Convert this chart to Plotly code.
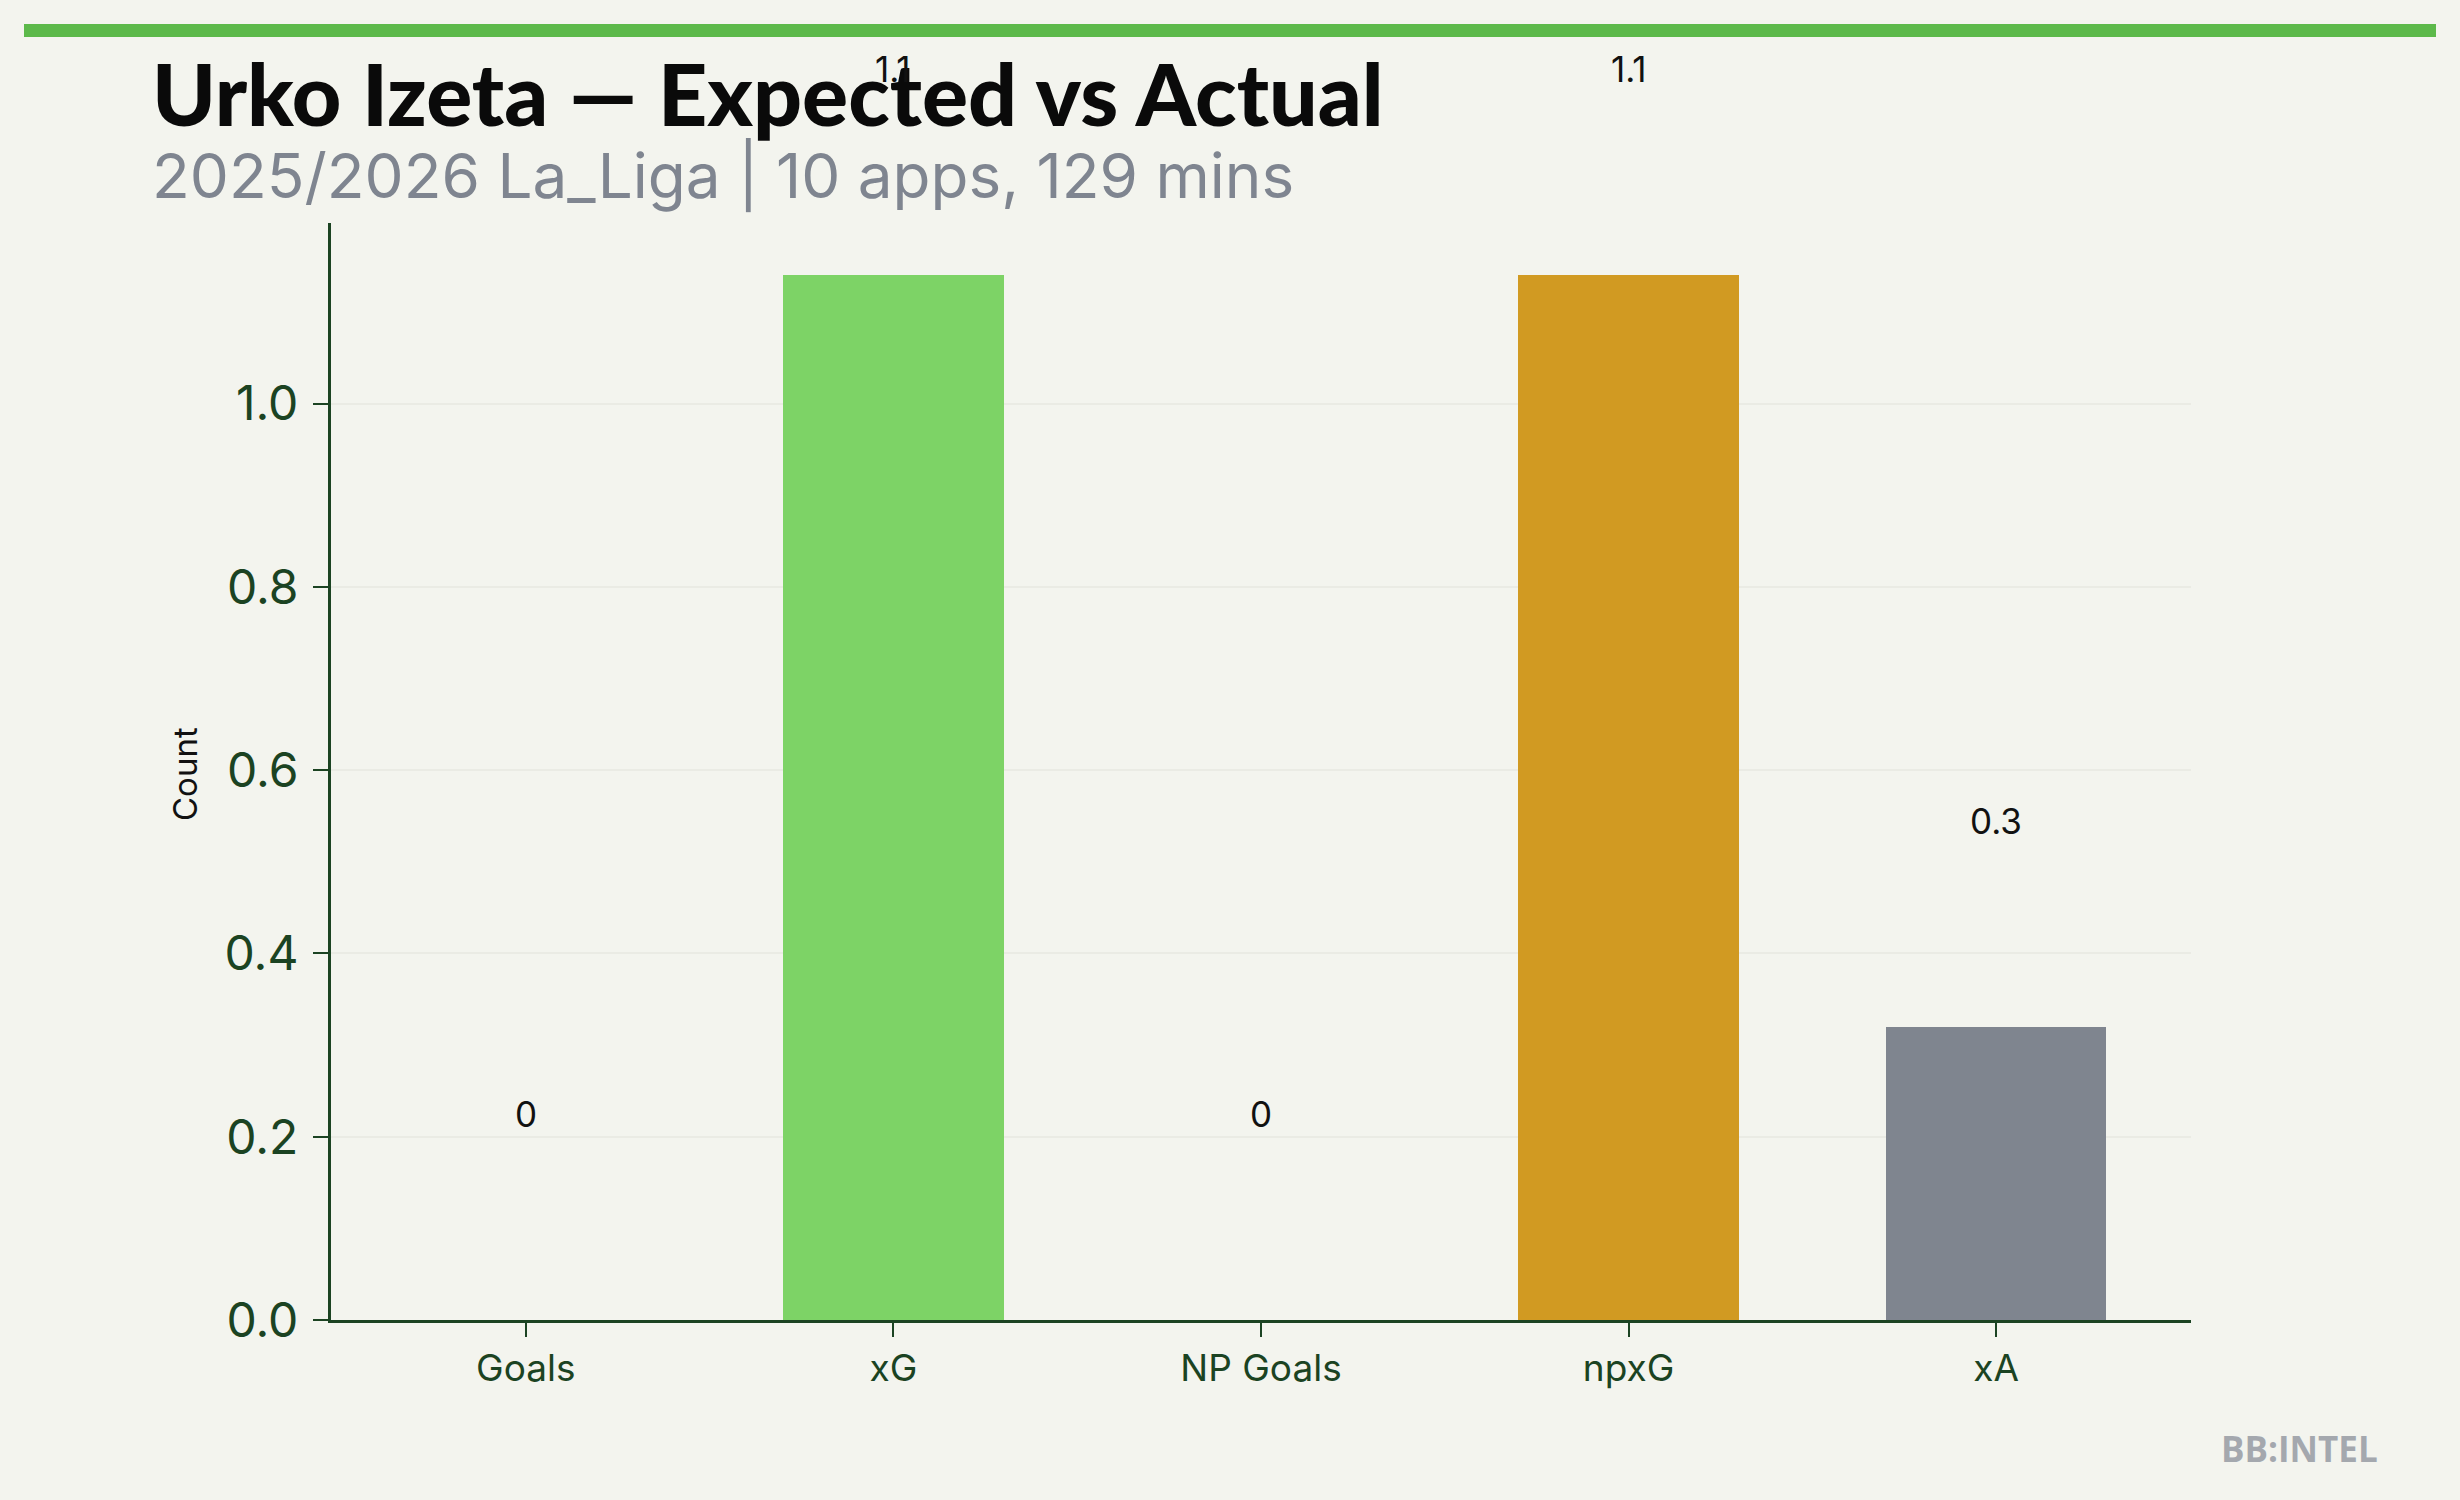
import plotly.graph_objects as go

# ---- data ----
categories = ["Goals", "xG", "NP Goals", "npxG", "xA"]
values = [0, 1.14, 0, 1.14, 0.32]
bar_colors = ["#2f7d32", "#7dd366", "#b5862a", "#d19a22", "#7f858f"]
y_ticks = [0.0, 0.2, 0.4, 0.6, 0.8, 1.0]

title_text = "Urko Izeta — Expected vs Actual"
subtitle_text = "2025/2026 La_Liga | 10 apps, 129 mins"
y_title = "Count"
watermark = "BB:INTEL"

# ---- style / layout ----
W, H = 2460, 1500
L, R, T, B = 331, 2191, 223, 1320
BG = "#f3f4ee"
AXIS = "#1b4322"
LABEL_OFFSET = 0.225  # data units above each bar

def fmt(v):
    return str(int(v)) if float(v).is_integer() else f"{v:.1f}"

def px_x(px):
    return (px - L) / (R - L)

def px_y(py):
    return (B - py) / (B - T)

ymax = max(values) * 1.05
offset_px = LABEL_OFFSET * (B - T) / ymax

fig = go.Figure()
fig.add_trace(go.Bar(
    x=categories, y=values, width=0.6,
    marker=dict(color=bar_colors, line=dict(width=0)),
    hoverinfo="x+y", showlegend=False,
))

annotations = [
    dict(x=px_x(150), y=px_y(92), xref="paper", yref="paper", text=title_text,
         showarrow=False, xanchor="left", yanchor="middle",
         font=dict(family="Lato", size=86, weight=900, color="#0a0a0a")),
    dict(x=px_x(150), y=px_y(176), xref="paper", yref="paper", text=subtitle_text,
         showarrow=False, xanchor="left", yanchor="middle",
         font=dict(family="Inter", size=62, color="#7f8590")),
    dict(x=px_x(185), y=px_y(774), xref="paper", yref="paper", text=y_title,
         showarrow=False, xanchor="center", yanchor="middle", textangle=-90,
         font=dict(family="Inter", size=33, color="#111111")),
    dict(x=px_x(2380), y=px_y(1448), xref="paper", yref="paper", text=watermark,
         showarrow=False, xanchor="right", yanchor="middle",
         font=dict(family="Open Sans", size=35, weight=700, color="#a4a8ae")),
]
for c, v in zip(categories, values):
    annotations.append(dict(
        x=c, y=v, xref="x", yref="y", yshift=offset_px, text=fmt(v),
        showarrow=False, xanchor="center", yanchor="middle",
        font=dict(family="Inter", size=35, color="#111111"),
    ))

fig.update_layout(
    width=W, height=H,
    paper_bgcolor=BG, plot_bgcolor=BG,
    margin=dict(l=L, r=W - R, t=T, b=H - B, pad=0),
    bargap=0,
    annotations=annotations,
    shapes=[dict(type="rect", xref="paper", yref="paper",
                 x0=px_x(24), x1=px_x(2436), y0=px_y(24), y1=px_y(37),
                 fillcolor="#5cb94a", line=dict(width=0), layer="above")],
    font=dict(family="Inter", color=AXIS),
)
fig.update_xaxes(
    range=[-0.53, 4.53], showline=True, linecolor=AXIS, linewidth=3,
    ticks="outside", ticklen=14, tickwidth=2, tickcolor=AXIS,
    tickfont=dict(family="Inter", size=37, color=AXIS),
    showgrid=False, zeroline=False, ticklabelstandoff=0,
)
fig.update_yaxes(
    range=[0, ymax], tickvals=y_ticks, ticktext=[f"{t:.1f}" for t in y_ticks],
    showline=True, linecolor=AXIS, linewidth=3,
    ticks="outside", ticklen=15, tickwidth=2, tickcolor=AXIS,
    tickfont=dict(family="Inter", size=48, color=AXIS),
    showgrid=True, gridcolor="#eaebe4", gridwidth=1.5, zeroline=False,
    ticklabelstandoff=5,
)

fig.write_html(
    "out.html",
    config={"displayModeBar": False},
    post_script="document.body.style.margin='0';document.body.style.background='%s';" % BG,
)
